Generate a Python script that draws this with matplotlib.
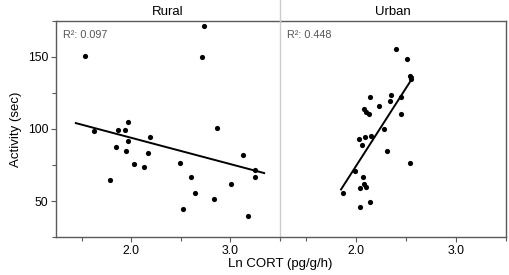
import matplotlib
matplotlib.use("Agg")
import matplotlib.pyplot as plt
from matplotlib.ticker import MultipleLocator
from matplotlib.lines import Line2D

plt.rcParams['font.family'] = ['Liberation Sans', 'DejaVu Sans']

panels = ["Rural", "Urban"]
r2_labels = ["R\u00b2: 0.097", "R\u00b2: 0.448"]

rural_x = [1.53, 1.62, 1.87, 1.94, 1.97, 1.97, 1.85, 1.95, 2.19, 2.17, 2.03, 2.13, 1.78,
           2.86, 3.13, 3.25, 3.25, 2.49, 2.60, 3.01, 2.64, 2.83, 2.52, 3.18, 2.73, 2.71]
rural_y = [150.9, 98.4, 99.5, 99.5, 105.2, 91.5, 87.4, 84.5, 94.5, 83.6, 75.8, 73.7, 64.8,
           100.4, 81.7, 71.6, 66.6, 76.7, 66.6, 61.8, 55.9, 51.1, 44.2, 39.9, 171.4, 149.7]

urban_x = [2.40, 2.51, 2.54, 2.55, 2.14, 2.35, 2.34, 2.45, 2.23, 2.08, 2.10, 2.13, 2.45,
           2.28, 2.03, 2.09, 2.15, 2.06, 2.31, 2.54, 1.99, 2.07, 2.04, 2.08, 2.10, 1.87,
           2.04, 2.14]
urban_y = [155.9, 148.8, 137.0, 134.7, 121.9, 123.3, 119.2, 121.9, 116.2, 114.1, 111.6,
           110.3, 110.3, 100.0, 93.4, 94.5, 95.4, 88.6, 84.5, 76.7, 70.5, 66.6, 58.9, 61.6,
           59.6, 55.9, 45.9, 49.0]

rural_fit_x = [1.44, 3.34]
rural_fit_y = [104.1, 69.4]
urban_fit_x = [1.85, 2.57]
urban_fit_y = [58.0, 136.0]

xs = [rural_x, urban_x]
ys = [rural_y, urban_y]
fits = [(rural_fit_x, rural_fit_y), (urban_fit_x, urban_fit_y)]

frame = "#5a5a5a"
fig = plt.figure(figsize=(5.1, 2.75), dpi=100)
left, right, bottom, top = 56/510, 506/510, 1-237/275, 1-21/275
mid = 280/510
axes = [fig.add_axes([left, bottom, mid-left, top-bottom]),
        fig.add_axes([mid, bottom, right-mid, top-bottom])]

for i, ax in enumerate(axes):
    ax.scatter(xs[i], ys[i], s=14, color="black", zorder=3, linewidths=0)
    ax.plot(fits[i][0], fits[i][1], color="black", lw=1.4, zorder=2)
    ax.set_xlim(1.24, 3.5)
    ax.set_ylim(25, 175)
    ax.xaxis.set_major_locator(MultipleLocator(1.0))
    ax.xaxis.set_minor_locator(MultipleLocator(0.5))
    ax.yaxis.set_major_locator(MultipleLocator(50))
    ax.yaxis.set_minor_locator(MultipleLocator(25))
    ax.xaxis.set_major_formatter(matplotlib.ticker.FormatStrFormatter('%.1f'))
    ax.tick_params(which='both', direction='out', color=frame, width=0.8, labelsize=8.8,
                   labelcolor='black', pad=2)
    ax.tick_params(which='major', length=3.5)
    ax.tick_params(which='minor', length=3)
    for s in ax.spines.values():
        s.set_color(frame)
        s.set_linewidth(1.0)
    ax.text(0.03, 0.96, r2_labels[i], transform=ax.transAxes, fontsize=7.8,
            color="#555555", va='top', ha='left')
    ax.set_title(panels[i], fontsize=9.5, pad=4)

axes[0].spines['right'].set_visible(False)
axes[1].spines['left'].set_color("#cccccc")
axes[1].tick_params(axis='y', which='both', left=False, labelleft=False)
axes[0].set_ylabel("Activity (sec)", fontsize=9.5, labelpad=4)

# strip divider above the panels
fig.add_artist(Line2D([mid, mid], [top, 1.0], transform=fig.transFigure,
                      color="#cccccc", lw=1.0))

fig.text(mid, 0.02, "Ln CORT (pg/g/h)", ha='center', va='bottom', fontsize=9.5)

fig.savefig("out.png", dpi=100)
